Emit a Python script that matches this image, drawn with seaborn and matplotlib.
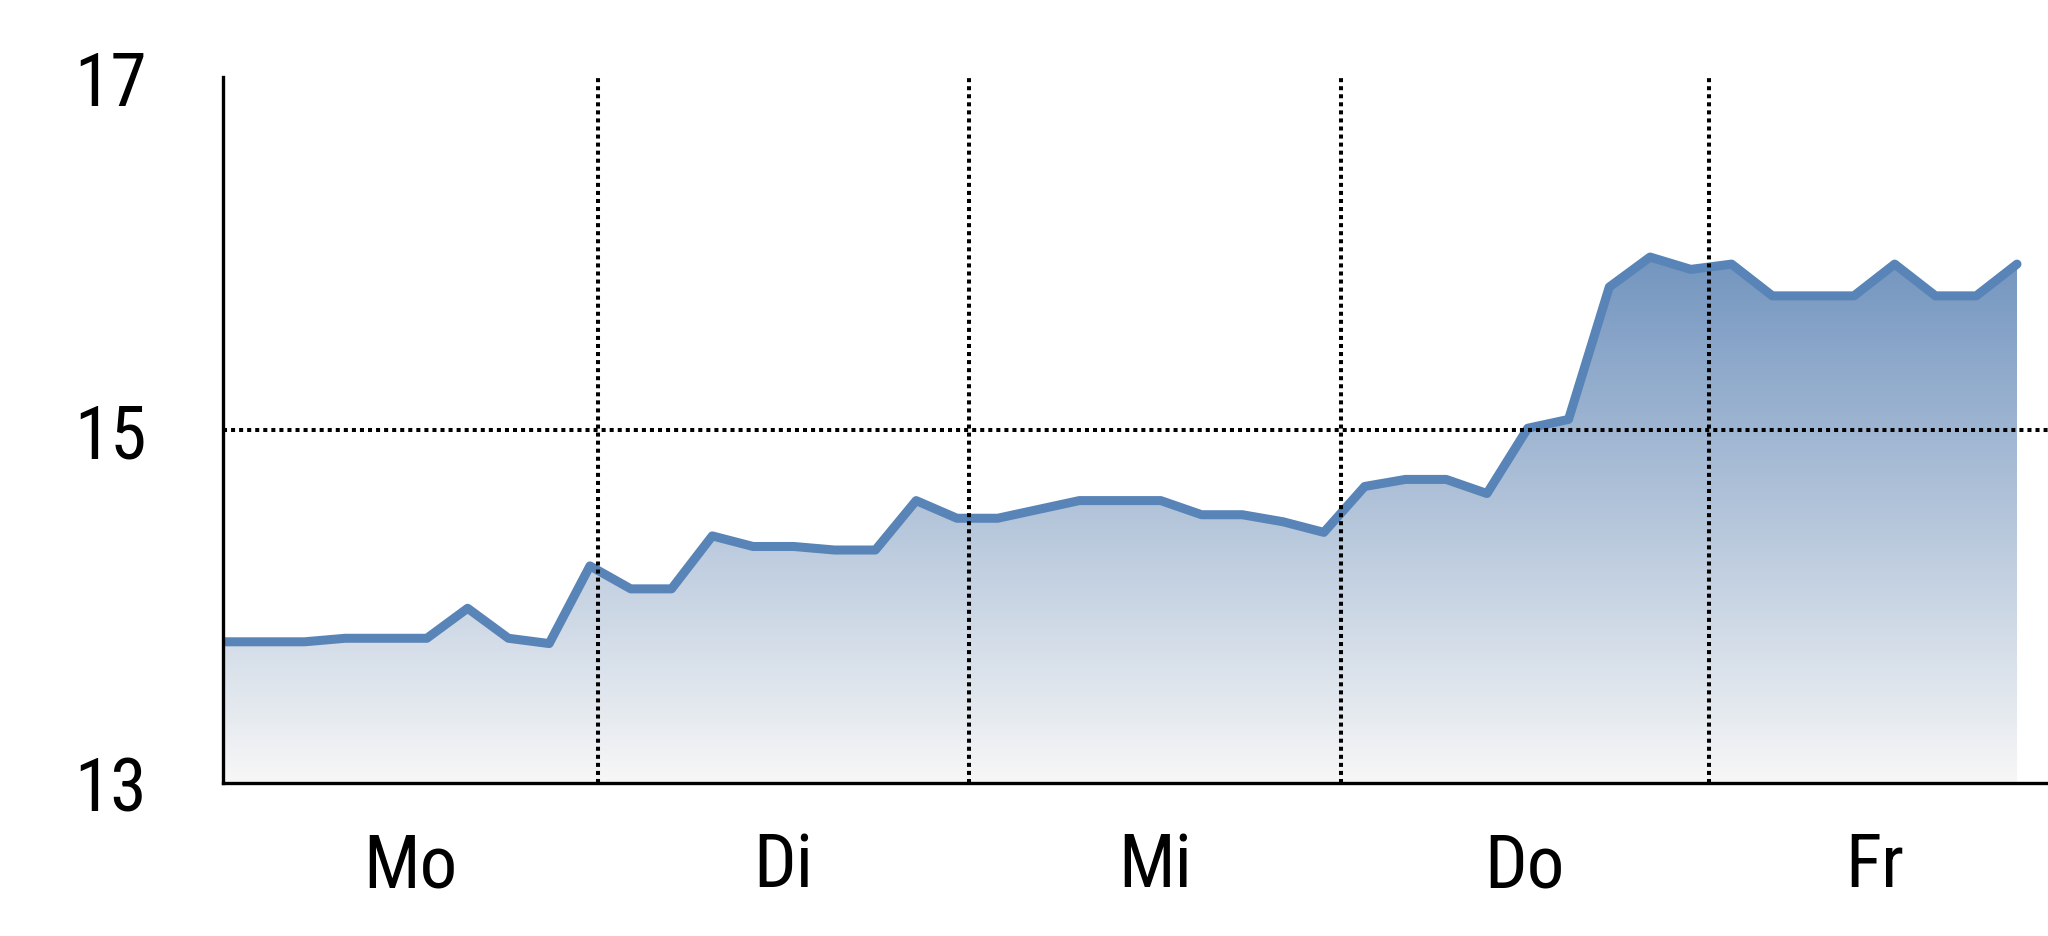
import numpy as np
import pandas as pd
import matplotlib
matplotlib.use("Agg")
import matplotlib.pyplot as plt
import seaborn as sns
from matplotlib import font_manager
from matplotlib.colors import LinearSegmentedColormap

# Kursverlauf, 9 Werte pro Handelstag
days = ["Mo", "Di", "Mi", "Do", "Fr"]
day_bounds = [0, 9.2, 18.3, 27.42, 36.44, 44.56]
values = [13.80, 13.80, 13.80, 13.82, 13.82, 13.82, 13.99, 13.82, 13.79,
          14.23, 14.10, 14.10, 14.40, 14.34, 14.34, 14.32, 14.32, 14.60,
          14.50, 14.50, 14.55, 14.60, 14.60, 14.60, 14.52, 14.52, 14.48,
          14.42, 14.68, 14.72, 14.72, 14.64, 15.01, 15.06, 15.81, 15.98,
          15.91, 15.94, 15.76, 15.76, 15.76, 15.94, 15.76, 15.76, 15.94]
y_ticks = [13, 15, 17]

df = pd.DataFrame({"t": np.arange(len(values)), "kurs": values})

sns.set_style("white")

# schmale Schrift suchen, sonst Liberation Sans
fonts = font_manager.fontManager.ttflist
names = {f.name for f in fonts}
main_font, stretch = "Liberation Sans", "normal"
for cand in ["Liberation Sans Narrow", "Arial Narrow", "Roboto Condensed",
             "Open Sans Condensed", "Noto Sans Condensed", "DejaVu Sans Condensed"]:
    if cand in names:
        main_font = cand
        break
else:
    for f in fonts:
        if f.stretch in ("condensed", "semi-condensed") and f.style == "normal" \
                and f.weight in (400, "normal", "regular") and f.name in ("DejaVu Sans", "Noto Sans", "Roboto", "Open Sans"):
            main_font, stretch = f.name, f.stretch
            break
plt.rcParams["font.family"] = [main_font, "DejaVu Sans"]
plt.rcParams["font.stretch"] = stretch
plt.rcParams["text.color"] = "black"
plt.rcParams["xtick.color"] = "black"
plt.rcParams["ytick.color"] = "black"

fig = plt.figure(figsize=(20.48, 9.37), dpi=100)
ax = fig.add_axes([223 / 2048, 153 / 937, 1825 / 2048, 706 / 937])

# Verlaufsfläche unter der Kurve
poly = ax.fill_between(df["t"], df["kurs"], y_ticks[0], color="none", lw=0)
fade = LinearSegmentedColormap.from_list("fade", ["#f7f7f7", "#7395bf"])
grad = np.linspace(0, 1, 256).reshape(-1, 1)
im = ax.imshow(grad, cmap=fade, aspect="auto", origin="lower", zorder=1,
               extent=[df["t"].min(), df["t"].max(), y_ticks[0], max(values)])
im.set_clip_path(poly.get_paths()[0], transform=ax.transData)

sns.lineplot(data=df, x="t", y="kurs", color="#5884b7", linewidth=6.5, ax=ax)
ax.lines[0].set_solid_capstyle("round")
ax.lines[0].set_solid_joinstyle("round")

ax.set_xlim(0, 44.76)
ax.set_ylim(y_ticks[0], y_ticks[-1])
ax.set_xlabel("")
ax.set_ylabel("")

dots = (0, (1, 1))
centers = [(a + b) / 2 for a, b in zip(day_bounds[:-1], day_bounds[1:])]
ax.set_xticks(day_bounds[1:-1])
ax.set_xticks(centers, minor=True)
ax.set_xticklabels(days, minor=True)
ax.tick_params(axis="x", which="major", length=0, labelbottom=False)
ax.tick_params(axis="x", which="minor", length=0, pad=34, labelsize=54)
ax.set_axisbelow(False)
ax.xaxis.grid(True, which="major", color="black", linestyle=dots, lw=2.9,
              dash_capstyle="butt")
ax.axhline(15, color="black", linestyle=dots, lw=2.9, dash_capstyle="butt", zorder=2.5)

ax.set_yticks(y_ticks)
ax.set_yticklabels([str(v) for v in y_ticks])
ax.tick_params(axis="y", length=0, pad=55, labelsize=53)

sns.despine(ax=ax)
for side in ["left", "bottom"]:
    ax.spines[side].set_linewidth(2.4)
    ax.spines[side].set_color("black")

fig.savefig("out.png", dpi=100)
plt.close(fig)
